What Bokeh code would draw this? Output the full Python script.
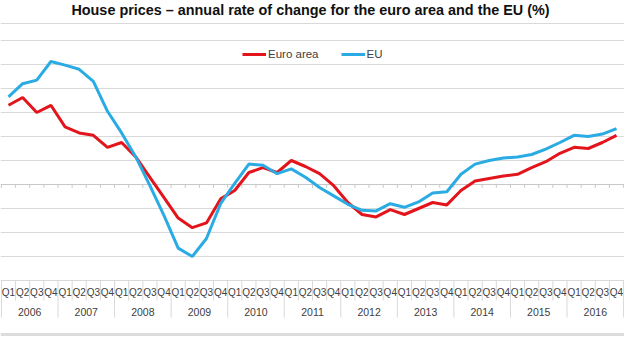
from bokeh.plotting import figure
from bokeh.models import Range1d, Legend, LegendItem, ColumnDataSource
from bokeh.embed import file_html
from bokeh.resources import INLINE
from bokeh.core.properties import value

# ---------------- data ----------------
years = ["2006", "2007", "2008", "2009", "2010", "2011",
         "2012", "2013", "2014", "2015", "2016"]
quarters = ["Q1", "Q2", "Q3", "Q4"]

euro_area = [6.6, 7.25, 6.0, 6.6, 4.8, 4.3, 4.1, 3.1, 3.5, 2.3, 0.6, -1.1,
             -2.8, -3.6, -3.2, -1.2, -0.5, 1.0, 1.4, 1.0, 2.0, 1.5, 0.9, -0.1,
             -1.5, -2.5, -2.7, -2.1, -2.5, -2.0, -1.5, -1.7, -0.5, 0.3, 0.5, 0.7,
             0.85, 1.4, 1.9, 2.6, 3.1, 3.0, 3.5, 4.1]
eu = [7.3, 8.4, 8.7, 10.25, 9.95, 9.6, 8.6, 6.1, 4.3, 2.3, -0.1, -2.6,
      -5.3, -6.0, -4.5, -1.6, 0.1, 1.7, 1.6, 0.9, 1.3, 0.6, -0.25, -0.95,
      -1.65, -2.15, -2.2, -1.6, -1.9, -1.45, -0.7, -0.6, 0.85, 1.7, 2.0, 2.2,
      2.3, 2.5, 2.95, 3.5, 4.1, 4.0, 4.2, 4.65]

grid_values = [-8, -6, -4, -2, 2, 4, 6, 8, 10, 12]

title_text = "House prices \u2013 annual rate of change for the euro area and the EU (%)"

# ---------------- layout constants ----------------
W, H = 624, 344
FIRST_PX, LAST_PX = 8.0, 616.0      # figure x of first / last quarter
PX_PER_Q = (LAST_PX - FIRST_PX) / (len(euro_area) - 1)
X0 = -FIRST_PX / PX_PER_Q
ZERO_FROM_TOP = 184.0     # figure pixels from top to the 0 line
PX_PER_PCT = 12.0

FONT = "Liberation Sans"
TXT = "#404040"
GRID = "#d9d9d9"
RED = "#e3151c"
BLUE = "#2aabe3"

x_range = Range1d(X0, X0 + W / PX_PER_Q)
y_range = Range1d(-(H - ZERO_FROM_TOP) / PX_PER_PCT, ZERO_FROM_TOP / PX_PER_PCT)

p = figure(width=W, height=H, x_range=x_range, y_range=y_range,
           output_backend="svg", toolbar_location=None,
           x_axis_location=None, y_axis_location=None,
           min_border=0, outline_line_color=None,
           background_fill_color="white", border_fill_color="white")
p.xgrid.visible = False
p.ygrid.visible = False


def pct_at(px_from_top):
    return (ZERO_FROM_TOP - px_from_top) / PX_PER_PCT


def xdata(px_from_left):
    return X0 + px_from_left / PX_PER_Q


# horizontal gridlines
p.hspan(y=grid_values, line_color=GRID, line_width=1)
# plot-area top border
p.hspan(y=[pct_at(23)], line_color=GRID, line_width=1)
# zero axis
p.hspan(y=[0], line_color="#c8c8c8", line_width=1)

n = len(euro_area)
idx = list(range(n))
bounds = [i - 0.5 for i in range(n + 1)]

# ticks on zero axis
p.segment(x0=bounds, y0=[0] * len(bounds), x1=bounds,
          y1=[-0.28] * len(bounds), line_color="#c8c8c8", line_width=1)

# category label separators
q_bounds = [b for k, b in enumerate(bounds) if k % 4 != 0]
y_bounds = [b for k, b in enumerate(bounds) if k % 4 == 0]
p.segment(x0=q_bounds, y0=[-8] * len(q_bounds), x1=q_bounds,
          y1=[pct_at(300)] * len(q_bounds), line_color=GRID, line_width=1)
p.segment(x0=y_bounds, y0=[-8] * len(y_bounds), x1=y_bounds,
          y1=[pct_at(317)] * len(y_bounds), line_color=GRID, line_width=1)

# quarter labels
q_labels = [quarters[i % 4] for i in idx]
p.text(x=idx, y=[pct_at(292)] * n, text=q_labels,
       text_font=value(FONT), text_font_size="10px", text_color=TXT,
       text_align="center", text_baseline="middle")

# year labels
year_x = [4 * k + 1.5 for k in range(len(years))]
p.text(x=year_x, y=[pct_at(311)] * len(years), text=years,
       text_font=value(FONT), text_font_size="10.5px", text_color=TXT,
       text_align="center", text_baseline="middle")

# bottom border line
p.hspan(y=[pct_at(333.5)], line_color="#dcdcdc", line_width=3)

# series
src = ColumnDataSource(dict(x=idx, ea=euro_area, eu=eu))
r_ea = p.line("x", "ea", source=src, line_color=RED, line_width=3)
r_eu = p.line("x", "eu", source=src, line_color=BLUE, line_width=3)

# title
p.text(x=[xdata(310)], y=[pct_at(9)], text=[title_text],
       text_font=value(FONT), text_font_size="14.4px", text_font_style="bold",
       text_color="#111111", text_align="center", text_baseline="middle")

legend = Legend(items=[LegendItem(label="Euro area", renderers=[r_ea]),
                       LegendItem(label="EU", renderers=[r_eu])],
                orientation="horizontal", location=(242, H - 60),
                padding=0, margin=0, spacing=22,
                glyph_width=24, glyph_height=12, label_height=12,
                label_standoff=2, label_text_font=FONT,
                label_text_font_size="11.5px", label_text_color=TXT,
                label_text_baseline="middle",
                background_fill_alpha=0, border_line_alpha=0)
p.add_layout(legend)

open("out.html", "w").write(file_html(p, INLINE))
